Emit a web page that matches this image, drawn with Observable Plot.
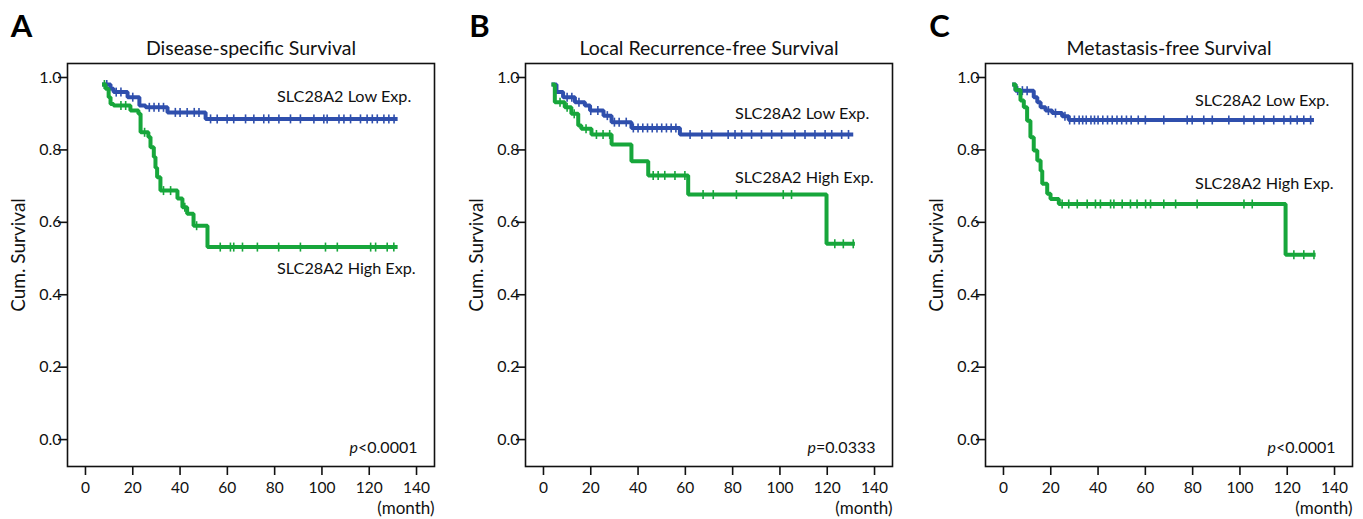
<!DOCTYPE html>
<html><head><meta charset="utf-8">
<script src="https://cdn.jsdelivr.net/npm/d3@7"></script>
<script src="https://cdn.jsdelivr.net/npm/@observablehq/plot@0.6"></script>
<style>
html,body{margin:0;padding:0;background:#fff;overflow:hidden}
#wrap{position:relative;width:1363px;height:519px}
#wrap > svg{position:absolute;top:0}
</style></head><body><div id="wrap"></div>
<script>
// ---------- data ----------
const xTicks = [0, 20, 40, 60, 80, 100, 120, 140];
const yTicks = [0.0, 0.2, 0.4, 0.6, 0.8, 1.0];
const panelLetters = ["A", "B", "C"];
const panelTitles = ["Disease-specific Survival", "Local Recurrence-free Survival", "Metastasis-free Survival"];
const pValueTexts = ["<0.0001", "=0.0333", "<0.0001"];
const groupNames = ["SLC28A2 Low Exp.", "SLC28A2 High Exp."];

// Panel A – Disease-specific survival
const aLowTime  = [7, 10.6, 11.9, 17.8, 22.8, 25.4, 34.7, 50.8, 132];
const aLowSurv  = [1, 0.988, 0.979, 0.965, 0.942, 0.937, 0.923, 0.905, 0.905];
const aLowCens  = [9, 13, 15, 20, 27, 29, 31, 33, 38, 40, 43, 46, 48, 52.9, 55.7, 59.9, 62.7, 67.7, 71.2, 75.4, 77.5, 81.8, 86.7, 90.9, 96.6, 100.8, 102.2, 107.2, 109.3, 112.1, 116.3, 119.1, 121.3, 123.4, 126.2, 128.3, 130.5];
const aHighTime = [7, 8.5, 9.8, 10.6, 11.9, 19, 22.4, 23.3, 26.6, 27.5, 28.9, 29.6, 30.3, 31.7, 38.9, 41, 43, 45.7, 51.6, 132];
const aHighSurv = [1, 0.988, 0.965, 0.946, 0.942, 0.928, 0.919, 0.868, 0.855, 0.827, 0.80, 0.77, 0.744, 0.707, 0.685, 0.661, 0.643, 0.61, 0.551, 0.551];
const aHighCens = [8, 15, 17, 25, 33, 36, 42, 47, 57, 61.3, 62.7, 66.4, 72.7, 81.7, 90.9, 101.5, 106.5, 120.6, 122.7, 127.6, 130.4];

// Panel B – Local recurrence-free survival
const bLowTime  = [3.4, 5.5, 8.3, 13.3, 17.5, 19.7, 25.4, 28.8, 37.2, 57.7, 131];
const bLowSurv  = [1, 0.979, 0.965, 0.951, 0.942, 0.928, 0.914, 0.896, 0.880, 0.862, 0.862];
const bLowCens  = [10, 12, 15, 20, 23, 27, 30, 32, 35, 38, 40, 42, 44, 46, 48, 50, 52, 54, 56, 62, 67, 71.1, 78.1, 81, 83.8, 88, 92.2, 96.5, 100.7, 106.3, 110.6, 114.8, 119.1, 121.9, 126.1, 129];
const bHighTime = [3.4, 4.8, 9, 11.8, 14.7, 16, 20.3, 28.8, 37.2, 44.3, 61.2, 119.7, 131.7];
const bHighSurv = [1, 0.951, 0.937, 0.919, 0.887, 0.878, 0.862, 0.834, 0.788, 0.749, 0.696, 0.56, 0.56];
const bHighCens = [7, 10, 13, 18, 22.4, 25.2, 28, 46.4, 48.5, 51.3, 55.6, 59.8, 67.5, 71.8, 81.6, 101.4, 104.9, 123.2, 126.8, 131];

// Panel C – Metastasis-free survival
const cLowTime  = [3.7, 5.1, 12.8, 14.3, 15.7, 17.8, 20.6, 24.8, 27.6, 131.3];
const cLowSurv  = [1, 0.983, 0.965, 0.951, 0.937, 0.928, 0.921, 0.912, 0.902, 0.902];
const cLowCens  = [6, 8, 10, 19, 22, 26, 28, 30, 32, 33.5, 35, 37, 38.5, 40, 42, 44, 46, 48, 50, 52, 54, 57, 60, 67.8, 77.7, 79.8, 84.7, 88.3, 95.3, 101.7, 105.9, 110.1, 114.3, 118.6, 121.4, 124.2, 127, 129.9];
const cHighTime = [3.7, 5.1, 7.2, 8.6, 10, 11.4, 12.8, 14.3, 15.7, 16.4, 18.5, 19.9, 23.4, 119.3, 132];
const cHighSurv = [1, 0.985, 0.956, 0.937, 0.9, 0.854, 0.818, 0.79, 0.762, 0.726, 0.698, 0.684, 0.670, 0.53, 0.53];
const cHighCens = [24.8, 27.6, 31.2, 35.4, 38.9, 41, 45.3, 46.7, 50.2, 53.7, 56.5, 60.1, 62.2, 67.8, 72.8, 81.9, 101.7, 105.2, 122.8, 127, 131.3];

// ---------- build ----------
const FONT = "Lato, 'Open Sans', sans-serif";
const BLUE = "#2f4fad", GREEN = "#17a63b";

const panels = [
  {low: [aLowTime, aLowSurv, aLowCens], high: [aHighTime, aHighSurv, aHighCens], lowY: 0.967, highY: 0.492, left: 0, width: 455},
  {low: [bLowTime, bLowSurv, bLowCens], high: [bHighTime, bHighSurv, bHighCens], lowY: 0.92, highY: 0.743, left: 458, width: 455},
  {low: [cLowTime, cLowSurv, cLowCens], high: [cHighTime, cHighSurv, cHighCens], lowY: 0.956, highY: 0.727, left: 918, width: 445}
];

function steps(time, surv) { return time.map((t, i) => ({t, s: surv[i]})); }
function censors(time, surv, cens) {
  return cens.map(c => {
    let i = d3.bisectRight(time, c) - 1;
    if (i < 0) i = 0;
    return {t: c, s: surv[i]};
  });
}
const censorSymbol = {
  draw(ctx) { ctx.moveTo(0, -4.5); ctx.lineTo(0, 4.5); }
};

const wrap = document.getElementById("wrap");
panels.forEach((p, k) => {
  const groups = [
    {name: groupNames[0], color: BLUE, d: p.low, ly: p.lowY},
    {name: groupNames[1], color: GREEN, d: p.high, ly: p.highY}
  ];
  const marks = [];
  groups.forEach(g => {
    marks.push(Plot.line(steps(g.d[0], g.d[1]), {x: "t", y: "s", curve: "step-after", stroke: g.color, strokeWidth: 4, strokeLinejoin: "miter", strokeLinecap: "butt"}));
    marks.push(Plot.dot(censors(g.d[0], g.d[1], g.d[2]), {x: "t", y: "s", symbol: censorSymbol, r: 4, stroke: g.color, strokeWidth: 1.6, fill: "none"}));
  });
  groups.forEach(g => {
    marks.push(Plot.text([g.name], {x: 81, y: g.ly, text: d => d, textAnchor: "start", lineAnchor: "middle", fontSize: 16.2, fill: "#111"}));
  });
  marks.push(
    Plot.frame({stroke: "#111", strokeWidth: 1.6}),
    Plot.axisX(xTicks, {anchor: "bottom", tickSize: 9, tickPadding: 6, fontSize: 15.5, strokeWidth: 1.6, label: null}),
    Plot.axisY(yTicks, {anchor: "left", tickSize: 9, tickPadding: -3, dy: -7, fontSize: 16, strokeWidth: 1.6, tickFormat: d3.format(".1f"), label: null}),
    Plot.text(["(month)"], {frameAnchor: "bottom-right", text: d => d, dy: 42, dx: 0, textAnchor: "end", lineAnchor: "middle", fontSize: 17, fill: "#111"}),
    Plot.text([panelTitles[k]], {frameAnchor: "top", text: d => d, dy: -15, textAnchor: "middle", lineAnchor: "middle", fontSize: 19.5, fill: "#111"}),
    Plot.text(["Cum. Survival"], {frameAnchor: "left", text: d => d, rotate: -90, dx: -49, dy: -10, textAnchor: "middle", lineAnchor: "middle", fontSize: 19, fill: "#111"}),
    Plot.text([panelLetters[k]], {frameAnchor: "top-left", text: d => d, dx: -46, dy: -36, textAnchor: "middle", lineAnchor: "middle", fontSize: 31, fontWeight: "bold", fill: "#000"}),
    Plot.text(["p" + pValueTexts[k]], {frameAnchor: "bottom-right", text: d => d, dx: -17, dy: -19, textAnchor: "end", lineAnchor: "middle", fontSize: 16, fill: "#111"})
  );
  const svg = Plot.plot({
    width: p.width, height: 519,
    marginLeft: 67, marginRight: p.width - 434, marginTop: 63, marginBottom: 53,
    style: {fontFamily: FONT, color: "#111", background: "transparent", overflow: "visible"},
    x: {domain: [-7.6, 147.6]},
    y: {domain: [-0.055, 1.058]},
    marks
  });
  svg.style.left = p.left + "px";
  // italic "p" in the p-value label
  d3.select(svg).selectAll("text").each(function() {
    const t = this.textContent;
    if (t === "p" + pValueTexts[k]) {
      const sel = d3.select(this);
      sel.text("");
      sel.append("tspan").attr("font-style", "italic").text("p");
      sel.append("tspan").text(pValueTexts[k]);
    }
  });
  wrap.appendChild(svg);
});
</script>
</body></html>
